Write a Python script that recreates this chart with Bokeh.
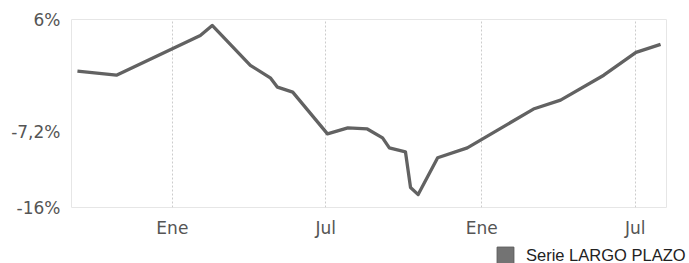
import datetime as dt
from bokeh.plotting import figure
from bokeh.layouts import column
from bokeh.models import (FixedTicker, CustomJSTickFormatter, Legend, LegendItem,
                          ColumnDataSource, Range1d)
from bokeh.embed import file_html
from bokeh.resources import INLINE

# ---- data ----
dates = ["2021-09-11", "2021-10-27", "2022-02-03", "2022-02-17", "2022-04-03",
         "2022-04-27", "2022-05-05", "2022-05-23", "2022-07-03", "2022-07-27",
         "2022-08-19", "2022-09-06", "2022-09-14", "2022-10-03", "2022-10-09",
         "2022-10-18", "2022-11-10", "2022-12-15", "2023-03-03", "2023-04-04",
         "2023-05-25", "2023-07-02", "2023-07-31"]
values = [-0.05, -0.52, 4.14, 5.30, 0.64,
          -0.87, -1.92, -2.50, -7.39, -6.69,
          -6.81, -7.85, -9.02, -9.48, -13.67,
          -14.49, -10.18, -9.02, -4.48, -3.43,
          -0.52, 2.16, 3.09]
series_name = "Serie LARGO PLAZO"
y_ticks = [6, -7.2, -16]
y_tick_labels = ["6%", "-7,2%", "-16%"]
x_tick_dates = ["2022-01-01", "2022-07-01", "2023-01-01", "2023-07-01"]
month_names = ["Ene", "Feb", "Mar", "Abr", "May", "Jun", "Jul", "Ago", "Sep", "Oct", "Nov", "Dic"]
x_start, x_end = "2021-09-04", "2023-08-07"
y_start, y_end = -16, 6


def ms(s):
    d = dt.datetime.strptime(s, "%Y-%m-%d").replace(tzinfo=dt.timezone.utc)
    return d.timestamp() * 1000.0


src = ColumnDataSource(dict(x=[ms(d) for d in dates], y=values))

# ---------------- main chart ----------------
p = figure(width=689, height=240, x_axis_type="datetime", output_backend="svg",
           toolbar_location=None,
           x_range=Range1d(ms(x_start), ms(x_end)), y_range=Range1d(y_start, y_end),
           min_border_left=71, min_border_right=23, min_border_top=19, min_border_bottom=32)
p.background_fill_color = "white"
p.border_fill_color = "white"
p.outline_line_color = "#e6e6e6"
p.outline_line_width = 1
p.frame_align = False

p.line("x", "y", source=src, line_color="#626262", line_width=3.3, line_join="round")

xa = p.xaxis[0]
xa.ticker = FixedTicker(ticks=[ms(d) for d in x_tick_dates])
xa.formatter = CustomJSTickFormatter(args=dict(names=month_names),
                                     code="return names[new Date(tick).getUTCMonth()];")
ya = p.yaxis[0]
ya.ticker = FixedTicker(ticks=y_ticks)
ya.major_label_overrides = {t: l for t, l in zip(y_ticks, y_tick_labels)}
for ax in (xa, ya):
    ax.axis_line_color = None
    ax.major_tick_line_color = None
    ax.minor_tick_line_color = None
    ax.major_tick_out = 0
    ax.major_tick_in = 0
    ax.major_label_text_font = "DejaVu Sans"
    ax.major_label_text_font_size = "17px"
    ax.major_label_text_color = "#555555"
xa.major_label_standoff = 10
ya.major_label_standoff = 11

p.xgrid.grid_line_color = "#cccccc"
p.xgrid.grid_line_dash = "2 2"
p.xgrid.grid_line_width = 1
p.ygrid.grid_line_color = None

# ---------------- legend strip ----------------
lg = figure(width=689, height=23, output_backend="svg", toolbar_location=None,
            min_border_left=0, min_border_right=0, min_border_top=0, min_border_bottom=0,
            x_axis_location=None, y_axis_location=None)
lg.frame_align = False
lg.outline_line_color = None
lg.grid.grid_line_color = None
lg.background_fill_color = "white"
lg.border_fill_color = "white"
sw = lg.scatter("x", "y", source=src, marker="square", size=0,
                fill_color="#737373", line_color="#5a5a5a", line_width=1)
sw.visible = False

legend = Legend(items=[LegendItem(label=series_name, renderers=[sw])],
                location=(484, -13), orientation="horizontal",
                padding=0, margin=0, spacing=0,
                border_line_color=None, background_fill_alpha=0,
                glyph_width=42, glyph_height=42, label_standoff=0,
                label_text_font="Liberation Sans", label_text_font_size="16.5px",
                label_text_color="#222222", label_height=20)
lg.add_layout(legend, "center")

layout = column(p, lg, spacing=0)
open("out.html", "w").write(file_html(layout, INLINE))
